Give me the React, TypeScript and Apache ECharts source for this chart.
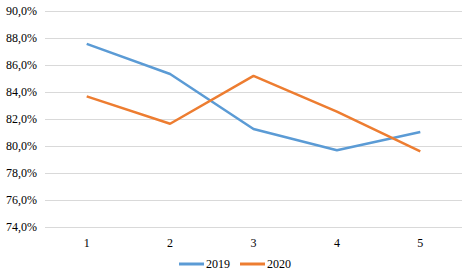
import React, { useEffect, useRef } from "react";
import * as echarts from "echarts";

const categories = ["1", "2", "3", "4", "5"];
const series2019 = [87.56, 85.33, 81.26, 79.68, 81.04];
const series2020 = [83.68, 81.65, 85.19, 82.54, 79.6];
const yMin = 74;
const yMax = 90;
const yStep = 2;

export default function App() {
  const ref = useRef<HTMLDivElement>(null);
  useEffect(() => {
    if (!ref.current) return;
    const chart = echarts.init(ref.current, null, { renderer: "svg" });
    const font = "'Liberation Serif', 'Times New Roman', serif";
    chart.setOption({
      animation: false,
      textStyle: { fontFamily: font },
      grid: { left: 45, right: 8, top: 11, bottom: 48 },
      xAxis: {
        type: "category",
        data: categories,
        boundaryGap: true,
        axisLine: { show: false },
        axisTick: { show: false },
        axisLabel: { color: "#000", fontSize: 12, fontFamily: font, margin: 10 },
      },
      yAxis: {
        type: "value",
        min: yMin,
        max: yMax,
        interval: yStep,
        axisLine: { show: false },
        axisTick: { show: false },
        splitLine: { lineStyle: { color: "#d9d9d9", width: 1 } },
        axisLabel: {
          color: "#000",
          fontSize: 12,
          fontFamily: font,
          margin: 8,
          formatter: (v: number) => v.toFixed(1).replace(".", ",") + "%",
        },
      },
      legend: {
        bottom: 0,
        left: "center",
        icon: "rect",
        itemWidth: 25,
        itemHeight: 3,
        itemGap: 10,
        textStyle: { color: "#000", fontSize: 12, fontFamily: font, padding: [0, 0, 0, -3] },
        data: ["2019", "2020"],
      },
      series: [
        {
          name: "2019",
          type: "line",
          data: series2019,
          symbol: "none",
          lineStyle: { color: "#5B9BD5", width: 2.5 },
          itemStyle: { color: "#5B9BD5" },
        },
        {
          name: "2020",
          type: "line",
          data: series2020,
          symbol: "none",
          lineStyle: { color: "#ED7D31", width: 2.5 },
          itemStyle: { color: "#ED7D31" },
        },
      ],
    });
    return () => chart.dispose();
  }, []);
  return <div ref={ref} style={{ width: 470, height: 275, position: "absolute", left: 0, top: 0 }} />;
}
